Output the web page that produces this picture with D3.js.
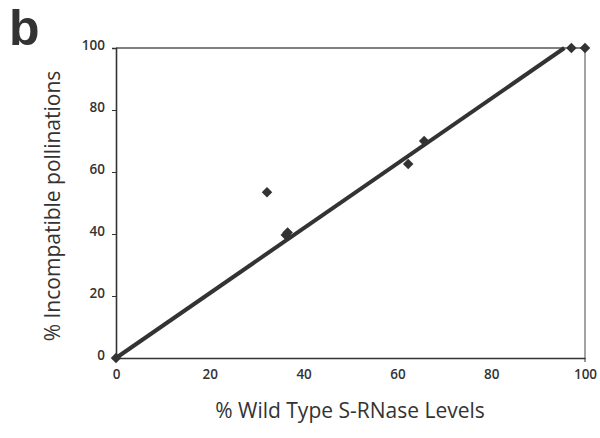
<!DOCTYPE html>
<html><head><meta charset="utf-8">
<script src="https://cdn.jsdelivr.net/npm/d3@7"></script>
<style>body{margin:0;background:#fff}svg{display:block}text{font-family:"Open Sans","Noto Sans",sans-serif;fill:#333}</style>
</head><body><svg id="c" width="600" height="438"></svg>
<script>
const wildTypeLevels = [0, 32.2, 36.2, 36.6, 62.3, 65.7, 97.1, 100];
const incompatible = [0, 53.5, 39.7, 40.5, 62.6, 70, 100, 100];
const fitX = [0, 95.6];
const fitY = [0, 100];
const xTicks = [0, 20, 40, 60, 80, 100];
const yTicks = [0, 20, 40, 60, 80, 100];

const svg = d3.select("#c");
const x = d3.scaleLinear().domain([0, 100]).range([116, 585]);
const y = d3.scaleLinear().domain([0, 100]).range([358, 48]);

svg.append("text").attr("x", 9).attr("y", 45).attr("font-size", 50).attr("font-weight", "bold")
  .style("font-family", "Liberation Sans, Arial, sans-serif").text("b");

// frame
svg.append("line").attr("x1", x(0)).attr("x2", x(100)).attr("y1", y(100)).attr("y2", y(100)).attr("stroke", "#555").attr("stroke-width", 1.3);
svg.append("line").attr("x1", x(100)).attr("x2", x(100)).attr("y1", y(100)).attr("y2", y(0)).attr("stroke", "#666").attr("stroke-width", 1.2);

const yAxis = svg.append("g").attr("transform", `translate(${x(0)},0)`)
  .call(d3.axisLeft(y).tickValues(yTicks).tickSize(4).tickPadding(7));
const xAxis = svg.append("g").attr("transform", `translate(0,${y(0)})`)
  .call(d3.axisBottom(x).tickValues(xTicks).tickSize(0).tickPadding(11));
[yAxis, xAxis].forEach(g => {
  g.select(".domain").attr("stroke", "#333").attr("stroke-width", 1.6);
  g.selectAll(".tick line").attr("stroke", "#333");
  g.selectAll("text").attr("font-size", 13.5).attr("font-weight", 600).attr("fill", "#333")
    .style("font-family", "Open Sans, sans-serif");
});
yAxis.selectAll(".tick text").attr("dy", "0.1em");
svg.append("line").attr("x1", x(100)).attr("x2", x(100)).attr("y1", y(0)).attr("y2", y(0) + 4).attr("stroke", "#333");

// fit line
const pts = fitX.map((v, i) => [v, fitY[i]]);
svg.append("path").datum(pts)
  .attr("d", d3.line().x(d => x(d[0])).y(d => y(d[1])))
  .attr("stroke", "#333").attr("stroke-width", 4).attr("fill", "none");

// points
const sym = d3.symbol().type(d3.symbolDiamond2).size(70);
svg.selectAll(".pt").data(wildTypeLevels.map((v, i) => [v, incompatible[i]])).enter()
  .append("path").attr("d", sym)
  .attr("transform", d => `translate(${x(d[0])},${y(d[1])})`)
  .attr("fill", "#333");

svg.append("text").attr("x", 350).attr("y", 418).attr("text-anchor", "middle").attr("font-size", 21).attr("font-weight", 500).text("% Wild Type S-RNase Levels");
svg.append("text").attr("transform", "translate(60,206) rotate(-90)").attr("text-anchor", "middle").attr("font-size", 21).attr("font-weight", 500).text("% Incompatible pollinations");
</script></body></html>
